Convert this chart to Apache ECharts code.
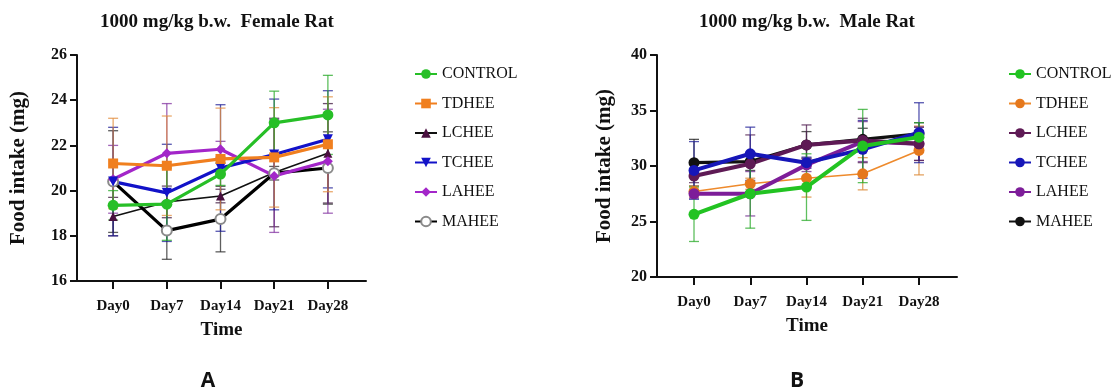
<!DOCTYPE html>
<html>
<head>
<meta charset="utf-8">
<script src="https://cdn.jsdelivr.net/npm/echarts@6/dist/echarts.min.js"></script>
<style>
html,body{margin:0;padding:0;background:#fff;}
#a,#b{position:absolute;top:0;width:559px;height:391px;}
#a{left:0;} #b{left:559px;}
</style>
</head>
<body>
<div id="a"></div>
<div id="b"></div>
<script>
// ---------- DATA ----------
const categories = ['Day0', 'Day7', 'Day14', 'Day21', 'Day28'];
const groupNames = ['CONTROL', 'TDHEE', 'LCHEE', 'TCHEE', 'LAHEE', 'MAHEE'];

// Female rats (mean, SD)
const femaleControl   = [19.35, 19.4, 20.73, 23.0, 23.35];
const femaleControlSD = [0.65, 1.6, 0.5, 1.4, 1.75];
const femaleTdhee     = [21.2, 21.1, 21.4, 21.47, 22.05];
const femaleTdheeSD   = [2.0, 2.2, 2.25, 2.2, 2.1];
const femaleLchee     = [18.85, 19.5, 19.76, 20.8, 21.65];
const femaleLcheeSD   = [0.85, 0.7, 0.3, 2.4, 2.2];
const femaleTchee     = [20.4, 19.9, 21.0, 21.6, 22.27];
const femaleTcheeSD   = [2.4, 2.15, 2.8, 2.45, 2.15];
const femaleLahee     = [20.5, 21.65, 21.83, 20.65, 21.3];
const femaleLaheeSD   = [1.5, 2.2, 0.35, 2.5, 2.3];
const femaleMahee     = [20.4, 18.23, 18.74, 20.77, 21.0];
const femaleMaheeSD   = [2.25, 1.27, 1.45, 0.3, 1.6];

// Male rats (mean, SD)
const maleControl   = [25.65, 27.5, 28.1, 31.8, 32.6];
const maleControlSD = [2.45, 3.1, 3.0, 3.3, 1.3];
const maleTdhee     = [27.7, 28.4, 28.9, 29.3, 31.4];
const maleTdheeSD   = [0.5, 0.5, 1.7, 1.45, 2.2];
const maleLchee     = [29.1, 30.2, 31.9, 32.3, 32.0];
const maleLcheeSD   = [0.6, 2.6, 1.8, 2.0, 1.5];
const maleTchee     = [29.6, 31.1, 30.3, 31.5, 33.0];
const maleTcheeSD   = [2.6, 2.4, 0.5, 2.6, 2.7];
const maleLahee     = [27.5, 27.5, 30.1, 32.2, 32.0];
const maleLaheeSD   = [0.4, 2.0, 0.6, 1.8, 1.5];
const maleMahee     = [30.3, 30.4, 31.9, 32.4, 32.9];
const maleMaheeSD   = [2.1, 0.8, 1.2, 1.0, 1.0];

const femaleTicks = [16, 18, 20, 22, 24, 26];
const maleTicks = [20, 25, 30, 35, 40];

const femaleTitle = '1000 mg/kg b.w.  Female Rat';
const maleTitle = '1000 mg/kg b.w.  Male Rat';
const yName = 'Food intake (mg)';
const xName = 'Time';

// ---------- STYLES ----------
const serif = '"Liberation Serif", "Times New Roman", serif';
const femaleStyles = [
  {line: '#27bf27', marker: '#27bf27', symbol: 'circle', size: 11, width: 3.2, err: 'rgba(40,170,40,0.75)'},
  {line: '#f07f1f', marker: '#f07f1f', symbol: 'rect', size: 10, width: 3.2, err: 'rgba(225,140,60,0.75)'},
  {line: '#111111', marker: '#4a1040', symbol: 'triangle', size: 9, width: 1.6, err: 'rgba(60,20,60,0.75)'},
  {line: '#1212c8', marker: '#1212c8', symbol: 'path://M0,0 L10,0 L5,9 Z', size: 10, width: 3.2, err: 'rgba(30,30,150,0.75)'},
  {line: '#a326c9', marker: '#a326c9', symbol: 'diamond', size: 10, width: 3.2, err: 'rgba(130,50,160,0.75)'},
  {line: '#000000', marker: '#8a8a8a', symbol: 'emptyCircle', size: 10, width: 3.2, err: 'rgba(40,40,40,0.75)'}
];
const maleStyles = [
  {line: '#22c322', marker: '#22c322', symbol: 'circle', size: 11, width: 4, err: 'rgba(40,170,40,0.75)'},
  {line: '#ee8a2c', marker: '#e5781c', symbol: 'circle', size: 11, width: 1.6, err: 'rgba(220,140,60,0.8)'},
  {line: '#5e1a55', marker: '#5e1a55', symbol: 'circle', size: 11, width: 4, err: 'rgba(80,30,80,0.75)'},
  {line: '#1616b8', marker: '#1616b8', symbol: 'circle', size: 11, width: 4, err: 'rgba(30,30,150,0.75)'},
  {line: '#7d1d99', marker: '#7d1d99', symbol: 'circle', size: 11, width: 4, err: 'rgba(110,40,140,0.75)'},
  {line: '#111111', marker: '#111111', symbol: 'circle', size: 11, width: 3.2, err: 'rgba(30,30,30,0.75)'}
];

const idx = categories.map((c, i) => i);

function buildSeries(means, sds, styles, drawOrder) {
  const series = [];
  // error bars first (underneath)
  drawOrder.forEach(k => {
    const st = styles[k];
    series.push({
      type: 'custom',
      name: groupNames[k] + ' SD',
      silent: true,
      z: 1,
      data: means[k].map((v, i) => [i, v - sds[k][i], v + sds[k][i]]),
      encode: {x: 0, y: [1, 2]},
      renderItem: function (params, api) {
        const x = api.value(0);
        const lo = api.coord([x, api.value(1)]);
        const hi = api.coord([x, api.value(2)]);
        const w = 5;
        const s = {stroke: st.err, lineWidth: 1.3};
        return {
          type: 'group',
          children: [
            {type: 'line', shape: {x1: lo[0], y1: lo[1], x2: hi[0], y2: hi[1]}, style: s},
            {type: 'line', shape: {x1: lo[0] - w, y1: lo[1], x2: lo[0] + w, y2: lo[1]}, style: s},
            {type: 'line', shape: {x1: hi[0] - w, y1: hi[1], x2: hi[0] + w, y2: hi[1]}, style: s}
          ]
        };
      }
    });
  });
  drawOrder.forEach(k => {
    const st = styles[k];
    series.push({
      type: 'line',
      name: groupNames[k],
      z: 3,
      data: means[k].map((v, i) => [idx[i], v]),
      symbol: st.symbol,
      symbolSize: st.size,
      showAllSymbol: true,
      lineStyle: {color: st.line, width: st.width},
      itemStyle: {color: st.marker, borderColor: st.marker, borderWidth: st.symbol === 'emptyCircle' ? 2 : 0},
      emphasis: {disabled: true}
    });
  });
  return series;
}

function buildOption(cfg) {
  return {
    animation: false,
    backgroundColor: '#fff',
    graphic: [
      {type: 'text', x: cfg.titleX, y: 22, style: {text: cfg.title, font: 'bold 19px ' + serif, fill: '#111', align: 'center', verticalAlign: 'middle'}},
      {type: 'text', x: cfg.letterX, y: 381, style: {text: cfg.letter, font: 'bold 21px "Open Sans", "DejaVu Sans", sans-serif', fill: '#111', align: 'center', verticalAlign: 'middle'}}
    ],
    legend: {
      orient: 'vertical',
      left: cfg.legendLeft,
      top: 61,
      itemWidth: 22,
      itemHeight: 12,
      itemGap: 13.5,
      data: groupNames,
      textStyle: {fontFamily: serif, fontSize: 16, color: '#111'},
      selectedMode: true
    },
    grid: {left: cfg.gridLeft, top: 55, width: cfg.gridWidth, height: cfg.gridHeight, containLabel: false},
    xAxis: {
      type: 'value',
      min: cfg.xMin,
      max: cfg.xMax,
      name: xName,
      nameLocation: 'middle',
      nameGap: 40,
      nameTextStyle: {fontFamily: serif, fontWeight: 'bold', fontSize: 19, color: '#111'},
      axisLine: {show: true, onZero: false, lineStyle: {color: '#111', width: 2}},
      axisTick: {show: true, customValues: idx, length: 8, inside: false, lineStyle: {color: '#111', width: 2}},
      axisLabel: {customValues: idx, formatter: v => categories[Math.round(v)], margin: 18, fontFamily: serif, fontWeight: 'bold', fontSize: 15, color: '#111'},
      splitLine: {show: false}
    },
    yAxis: {
      type: 'value',
      min: cfg.ticks[0],
      max: cfg.ticks[cfg.ticks.length - 1],
      interval: cfg.ticks[1] - cfg.ticks[0],
      name: yName,
      nameLocation: 'middle',
      nameGap: cfg.yNameGap,
      nameTextStyle: {fontFamily: serif, fontWeight: 'bold', fontSize: 21, color: '#111'},
      axisLine: {show: true, onZero: false, lineStyle: {color: '#111', width: 2}},
      axisTick: {show: true, length: 7, lineStyle: {color: '#111', width: 2}},
      axisLabel: {margin: 10, fontFamily: serif, fontWeight: 'bold', fontSize: 16, color: '#111'},
      splitLine: {show: false}
    },
    series: buildSeries(cfg.means, cfg.sds, cfg.styles, cfg.drawOrder)
  };
}

const chartA = echarts.init(document.getElementById('a'), null, {renderer: 'canvas'});
chartA.setOption(buildOption({
  title: femaleTitle, titleX: 217, letter: 'A', letterX: 208,
  legendLeft: 409,
  gridLeft: 70, gridWidth: 296, gridHeight: 226,
  xMin: -0.673, xMax: 4.71,
  ticks: femaleTicks, yNameGap: 48,
  means: [femaleControl, femaleTdhee, femaleLchee, femaleTchee, femaleLahee, femaleMahee],
  sds: [femaleControlSD, femaleTdheeSD, femaleLcheeSD, femaleTcheeSD, femaleLaheeSD, femaleMaheeSD],
  styles: femaleStyles,
  drawOrder: [2, 5, 4, 3, 1, 0]
}));

const chartB = echarts.init(document.getElementById('b'), null, {renderer: 'canvas'});
chartB.setOption(buildOption({
  title: maleTitle, titleX: 248, letter: 'B', letterX: 238,
  legendLeft: 444,
  gridLeft: 98, gridWidth: 300, gridHeight: 222,
  xMin: -0.658, xMax: 4.676,
  ticks: maleTicks, yNameGap: 42,
  means: [maleControl, maleTdhee, maleLchee, maleTchee, maleLahee, maleMahee],
  sds: [maleControlSD, maleTdheeSD, maleLcheeSD, maleTcheeSD, maleLaheeSD, maleMaheeSD],
  styles: maleStyles,
  drawOrder: [5, 1, 4, 2, 3, 0]
}));
</script>
</body>
</html>
